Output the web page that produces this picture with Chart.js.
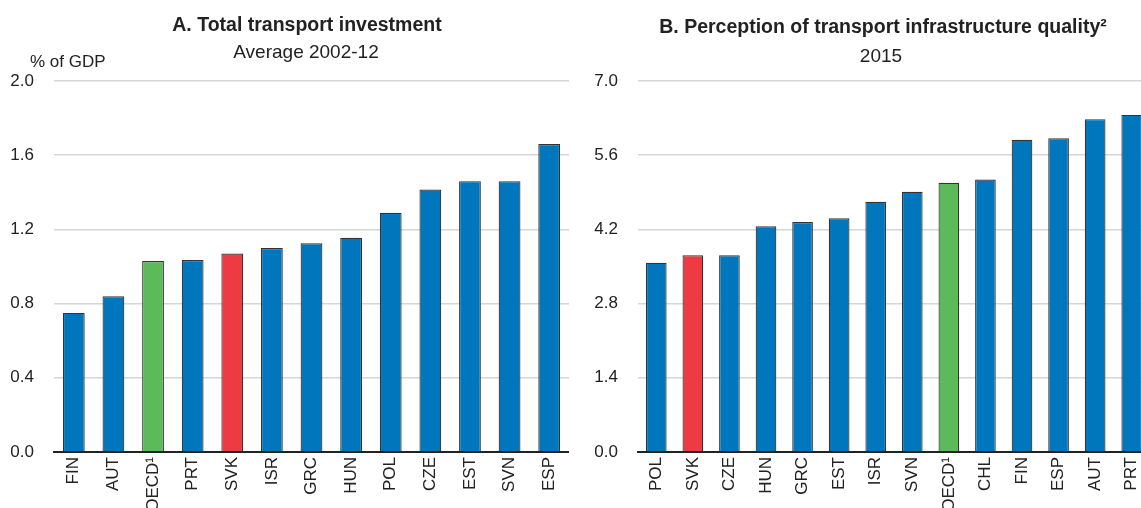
<!DOCTYPE html>
<html>
<head>
<meta charset="utf-8">
<script src="https://cdn.jsdelivr.net/npm/chart.js@4.4.1/dist/chart.umd.min.js"></script>
<style>
  html, body { margin: 0; padding: 0; background: #fff; }
  body { width: 1141px; height: 508px; overflow: hidden; position: relative; font-family: 'Liberation Sans', Arial, sans-serif; color: #222; }
  .box { position: absolute; top: 0; height: 508px; }
  .txt { position: absolute; white-space: nowrap; line-height: 1; }
  .title { font-weight: bold; font-size: 19.5px; text-align: center; width: 600px; }
  .sub { font-size: 19px; text-align: center; width: 400px; }
</style>
</head>
<body>
<div class="box" id="boxA" style="left:0px;width:569px;"><canvas id="chartA"></canvas></div>
<div class="box" id="boxB" style="left:578px;width:572px;"><canvas id="chartB"></canvas></div>

<div class="txt title" style="left:7px;top:15px;">A. Total transport investment</div>
<div class="txt sub" style="left:106px;top:42px;">Average 2002-12</div>
<div class="txt" style="left:30px;top:53px;font-size:17px;">% of GDP</div>
<div class="txt title" style="left:583px;top:17px;">B. Perception of transport infrastructure quality²</div>
<div class="txt sub" style="left:681px;top:46px;">2015</div>

<script>
// ---- Data ----
const categoriesA = ['FIN', 'AUT', 'OECD¹', 'PRT', 'SVK', 'ISR', 'GRC', 'HUN', 'POL', 'CZE', 'EST', 'SVN', 'ESP'];
const valuesA = [0.75, 0.84, 1.03, 1.035, 1.07, 1.10, 1.125, 1.155, 1.29, 1.415, 1.46, 1.46, 1.66];
const ticksA = [0.0, 0.4, 0.8, 1.2, 1.6, 2.0];

const categoriesB = ['POL', 'SVK', 'CZE', 'HUN', 'GRC', 'EST', 'ISR', 'SVN', 'OECD¹', 'CHL', 'FIN', 'ESP', 'AUT', 'PRT'];
const valuesB = [3.57, 3.71, 3.71, 4.26, 4.34, 4.41, 4.72, 4.91, 5.08, 5.14, 5.89, 5.92, 6.28, 6.36];
const ticksB = [0.0, 1.4, 2.8, 4.2, 5.6, 7.0];

const highlightCountry = 'SVK';
const highlightAverage = 'OECD¹';

// ---- Styles ----
const BLUE = '#0077bd', RED = '#ee3a43', GREEN = '#5dba5b';
const FONT = "'Liberation Sans', Arial, sans-serif";

function colorsFor(cats) {
  return cats.map(c => c === highlightCountry ? RED : (c === highlightAverage ? GREEN : BLUE));
}

function makeChart(id, cats, vals, ticks, yWidth, barPct) {
  const tMin = ticks[0], tMax = ticks[ticks.length - 1];
  return new Chart(document.getElementById(id), {
    type: 'bar',
    data: {
      labels: cats,
      datasets: [{
        data: vals,
        backgroundColor: colorsFor(cats),
        borderColor: '#333333',
        borderWidth: 1.2,
        categoryPercentage: 1.0,
        barPercentage: barPct
      }]
    },
    options: {
      responsive: true,
      maintainAspectRatio: false,
      animation: false,
      events: [],
      layout: { padding: { top: 81, left: 0, right: 0, bottom: 0 } },
      plugins: { legend: { display: false }, title: { display: false }, tooltip: { enabled: false } },
      scales: {
        x: {
          grid: { display: false, drawTicks: false },
          border: { display: true, color: '#222', width: 2 },
          ticks: {
            autoSkip: false, maxRotation: 90, minRotation: 90, padding: 5,
            color: '#222', font: { family: FONT, size: 17 }
          },
          afterFit: s => { s.height = 56; s.paddingLeft = 0; s.paddingRight = 0; }
        },
        y: {
          min: tMin, max: tMax,
          afterBuildTicks: s => { s.ticks = ticks.map(v => ({ value: v })); },
          grid: { color: '#d6d6d6', lineWidth: 1.5, drawTicks: false },
          border: { display: false },
          ticks: {
            padding: 20, color: '#222', font: { family: FONT, size: 17 },
            callback: v => Number(v).toFixed(1)
          },
          afterFit: s => { s.width = yWidth; }
        }
      }
    }
  });
}

makeChart('chartA', categoriesA, valuesA, ticksA, 54, 0.55);
makeChart('chartB', categoriesB, valuesB, ticksB, 60, 0.565);
</script>
</body>
</html>
